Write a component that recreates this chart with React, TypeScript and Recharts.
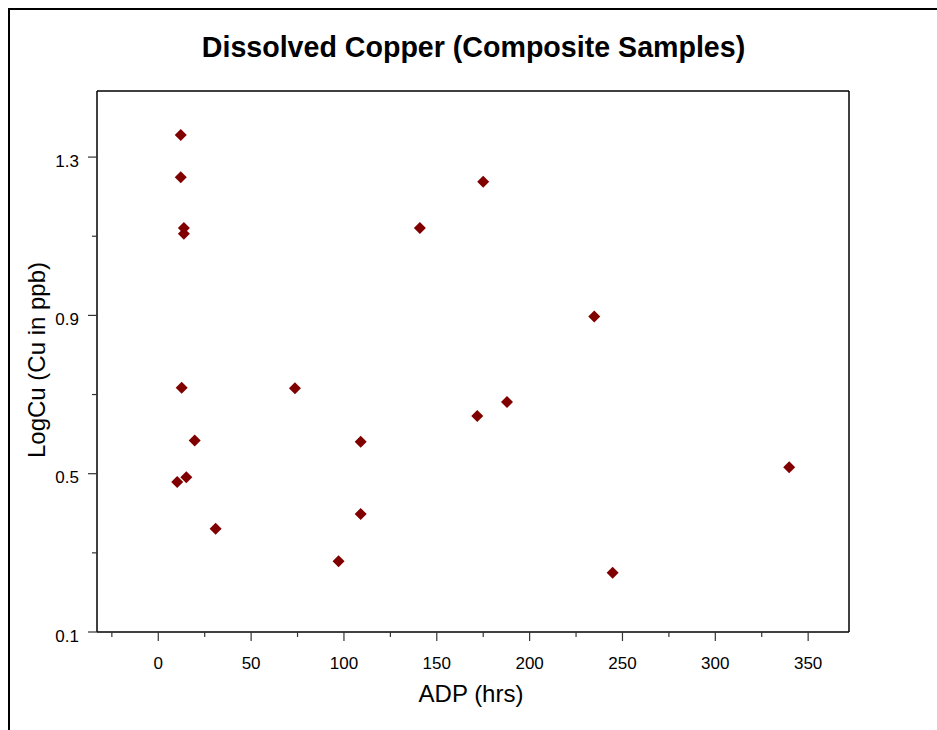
import React from "react";
import { ScatterChart, Scatter, XAxis, YAxis } from "recharts";

// Values
const adpHours = [
  12.1, 12.1, 13.8, 13.8, 12.6, 19.6, 15.1, 10.2, 30.9, 73.6,
  97.1, 109.0, 109.0, 140.9, 175.0, 171.8, 187.8, 234.8, 244.7, 339.8,
];
const logCu = [
  1.356, 1.249, 1.121, 1.106, 0.717, 0.584, 0.491, 0.479, 0.361, 0.716,
  0.279, 0.581, 0.398, 1.121, 1.238, 0.646, 0.681, 0.897, 0.25, 0.516,
];
const xTicks = [-25, 0, 25, 50, 75, 100, 125, 150, 175, 200, 225, 250, 275, 300, 325, 350];
const yTicks = [0.1, 0.3, 0.5, 0.7, 0.9, 1.1, 1.3];

const points = adpHours.map((x, i) => ({ x, y: logCu[i] }));

const FONT = "Arial, 'Liberation Sans', sans-serif";
const X_DOMAIN: [number, number] = [-33, 372];
const Y_DOMAIN: [number, number] = [0.1, 1.467];

const XTick = (props: any) => {
  const { x, y, payload } = props;
  const major = payload.value % 50 === 0;
  return (
    <g>
      <line x1={x} y1={y} x2={x} y2={y + (major ? 9 : 5)} stroke="#333" strokeWidth={1.2} />
      {major && (
        <text x={x} y={y + 37} textAnchor="middle" fontSize={17} fontFamily={FONT} fill="#000">
          {payload.value}
        </text>
      )}
    </g>
  );
};

const YTick = (props: any) => {
  const { x, y, payload } = props;
  const major = Math.round(payload.value * 10) % 4 === 1;
  return (
    <g>
      <line x1={x} y1={y} x2={x - (major ? 9 : 5)} y2={y} stroke="#333" strokeWidth={1.2} />
      {major && (
        <text x={x - 18} y={y + 9.5} textAnchor="end" fontSize={17} fontFamily={FONT} fill="#000">
          {payload.value.toFixed(1)}
        </text>
      )}
    </g>
  );
};

// small maroon diamond marker
const Diamond = (props: any) => {
  const { cx, cy } = props;
  if (cx == null || cy == null) return null;
  const r = 6;
  return (
    <polygon
      points={`${cx},${cy - r} ${cx + r},${cy} ${cx},${cy + r} ${cx - r},${cy}`}
      fill="#800000"
    />
  );
};

export default function App() {
  return (
    <div
      style={{
        position: "absolute",
        left: 8,
        top: 8,
        width: 929,
        height: 722,
        boxSizing: "border-box",
        borderTop: "2px solid #000",
        borderLeft: "2px solid #000",
        background: "#fff",
        fontFamily: FONT,
      }}
    >
      <div
        style={{
          position: "absolute",
          left: -1,
          top: 23,
          width: 929,
          textAlign: "center",
          fontSize: 28.6,
          lineHeight: "28px",
          fontWeight: "bold",
          whiteSpace: "nowrap",
        }}
      >
        Dissolved Copper (Composite Samples)
      </div>
      <ScatterChart
        width={927}
        height={720}
        margin={{ top: 80, left: 86, right: 87, bottom: 97 }}
      >
        <XAxis
          type="number"
          dataKey="x"
          domain={X_DOMAIN}
          ticks={xTicks}
          interval={0}
          allowDataOverflow
          height={1}
          tickSize={0}
          tickMargin={0}
          tickLine={false}
          tick={<XTick />}
          axisLine={{ stroke: "#000", strokeWidth: 1.5 }}
        />
        <XAxis
          xAxisId="top"
          orientation="top"
          type="number"
          domain={X_DOMAIN}
          height={1}
          tick={false}
          tickLine={false}
          axisLine={{ stroke: "#000", strokeWidth: 1.5 }}
        />
        <YAxis
          type="number"
          dataKey="y"
          domain={Y_DOMAIN}
          ticks={yTicks}
          interval={0}
          allowDataOverflow
          width={1}
          tickSize={0}
          tickMargin={0}
          tickLine={false}
          tick={<YTick />}
          axisLine={{ stroke: "#000", strokeWidth: 1.5 }}
        />
        <YAxis
          yAxisId="right"
          orientation="right"
          type="number"
          domain={Y_DOMAIN}
          width={1}
          tick={false}
          tickLine={false}
          axisLine={{ stroke: "#000", strokeWidth: 1.5 }}
        />
        <Scatter data={points} shape={<Diamond />} isAnimationActive={false} />
      </ScatterChart>
      <div
        style={{
          position: "absolute",
          left: 461,
          top: 672,
          fontSize: 24,
          lineHeight: "24px",
          whiteSpace: "nowrap",
          transform: "translateX(-50%)",
        }}
      >
        ADP (hrs)
      </div>
      <div
        style={{
          position: "absolute",
          left: 27,
          top: 350,
          fontSize: 24,
          lineHeight: "24px",
          whiteSpace: "nowrap",
          transform: "translate(-50%, -50%) rotate(-90deg)",
        }}
      >
        LogCu (Cu in ppb)
      </div>
    </div>
  );
}
